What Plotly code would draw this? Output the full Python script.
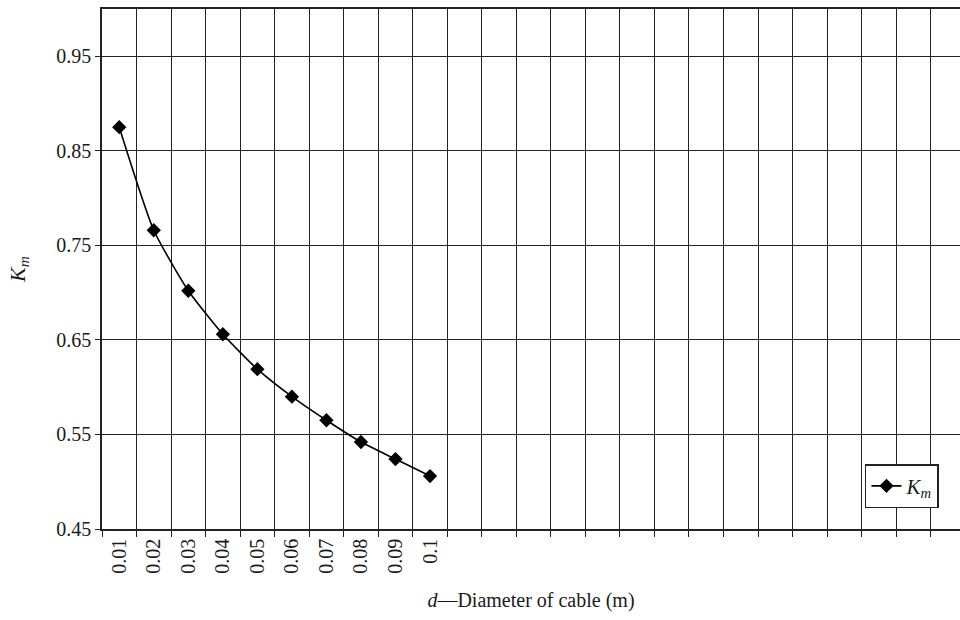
import plotly.graph_objects as go

categories = ["0.01", "0.02", "0.03", "0.04", "0.05", "0.06", "0.07", "0.08", "0.09", "0.1"]
km_values = [0.875, 0.766, 0.702, 0.656, 0.619, 0.590, 0.565, 0.542, 0.524, 0.506]
n_slots = 25  # total category slots on the axis (only first 10 labelled)

x_idx = list(range(len(categories)))

fig = go.Figure()
fig.add_trace(go.Scatter(
    x=x_idx, y=km_values, mode="lines+markers", name="<i>K<sub>m</sub></i>",
    line=dict(color="black", width=1.6, shape="spline", smoothing=0.55),
    marker=dict(symbol="diamond", size=11, color="black"),
))

font_family = "Liberation Serif"
fig.update_layout(
    width=960, height=620,
    margin=dict(l=102, r=0, t=9, b=91),
    paper_bgcolor="white", plot_bgcolor="white",
    font=dict(family=font_family, size=20, color="#1a1a1a"),
    showlegend=True,
    legend=dict(
        x=0.9755, y=0.04, xanchor="right", yanchor="bottom",
        bgcolor="white", bordercolor="#222", borderwidth=1.5,
        font=dict(size=21, family=font_family),
        itemwidth=30, tracegroupgap=0,
    ),
    xaxis=dict(
        range=[-0.5, n_slots - 0.65],
        tickmode="array", tickvals=x_idx, ticktext=categories,
        tickangle=-90, ticks="", showgrid=False, zeroline=False,
        showline=True, linecolor="#222", linewidth=1.5, mirror=True,
        minor=dict(tickmode="array",
                   tickvals=[i - 0.5 for i in range(n_slots + 1)],
                   showgrid=True, gridcolor="#222", gridwidth=1,
                   ticks="outside", ticklen=6, tickcolor="#222"),
        title=dict(text="<i>d</i>—Diameter of cable (m)", standoff=20,
                   font=dict(size=20)),
        tickfont=dict(size=20),
    ),
    yaxis=dict(
        range=[0.45, 1.0], tick0=0.45, dtick=0.1, tickformat=".2f",
        showgrid=True, gridcolor="#222", gridwidth=1,
        ticks="outside", ticklen=5, tickcolor="#222",
        showline=True, linecolor="#222", linewidth=1.5, zeroline=False,
        title=dict(text="<i>K<sub>m</sub></i>", standoff=25, font=dict(size=22)),
        tickfont=dict(size=20),
    ),
)

fig.write_html("out.html", config={"displayModeBar": False},
               post_script="document.body.style.margin='0';document.body.style.overflow='hidden';")
